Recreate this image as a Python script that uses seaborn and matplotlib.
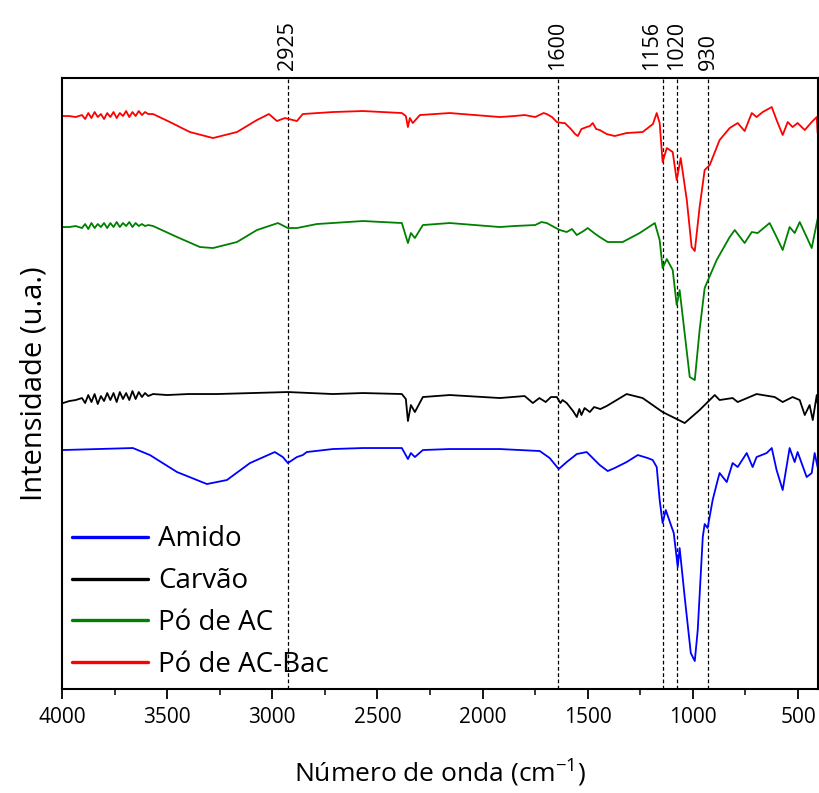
import matplotlib
matplotlib.use("Agg")
import matplotlib.pyplot as plt
import seaborn as sns
from matplotlib.ticker import MultipleLocator

# --- Data (intensity in arbitrary units) ---
wn_amido = [3995, 3663, 3582, 3453, 3311, 3216, 3106, 2988, 2950, 2926, 2883, 2855, 2836, 2712,
            2569, 2384, 2355, 2341, 2322, 2284, 2156, 1918, 1728, 1681, 1638, 1600, 1552, 1505,
            1443, 1405, 1372, 1315, 1262, 1215, 1191, 1172, 1158, 1144, 1129, 1101, 1091, 1072,
            1063, 1039, 1010, 991, 977, 953, 944, 930, 906, 882, 873, 839, 811, 787, 744, 716,
            697, 649, 625, 602, 573, 540, 516, 502, 459, 435, 421, 407]
int_amido = [239, 241, 234, 217, 205, 209, 226, 237, 232, 226, 232, 234, 237, 240,
             241, 241, 230, 236, 232, 239, 240, 240, 238, 231, 220, 227, 235, 237,
             224, 218, 221, 227, 234, 231, 229, 222, 189, 166, 179, 162, 156, 122,
             141, 92, 36, 28, 59, 152, 165, 161, 189, 209, 216, 207, 226, 222, 236, 222,
             232, 236, 241, 219, 199, 241, 227, 237, 212, 216, 236, 222]

wn_carvao = [3995, 3965, 3935, 3905, 3890, 3875, 3860, 3845, 3830, 3815, 3800, 3785, 3770, 3755,
             3740, 3725, 3710, 3695, 3680, 3665, 3650, 3635, 3620, 3605, 3590, 3567, 3500, 3400,
             3263, 2926, 2712, 2569, 2384, 2365, 2355, 2341, 2322, 2284, 2156, 1918, 1800,
             1761, 1730, 1700, 1675, 1647, 1630, 1620, 1600, 1570, 1552, 1540, 1530, 1515, 1490,
             1470, 1440, 1410, 1315, 1239, 1144, 1039, 968, 896, 873, 811, 787, 697, 611, 573,
             526, 492, 468, 445, 430, 411, 407]
int_carvao = [286, 288, 289, 291, 286, 294, 287, 295, 285, 293, 288, 296, 289, 296,
              287, 297, 290, 296, 289, 298, 290, 297, 292, 296, 293, 295, 294, 295,
              295, 297, 295, 296, 295, 290, 268, 284, 277, 292, 294, 291, 293,
              286, 291, 287, 292, 292, 286, 289, 286, 278, 272, 280, 274, 281, 277,
              282, 280, 283, 295, 291, 277, 266, 279, 294, 289, 291, 287, 295, 292, 287,
              292, 289, 274, 284, 269, 294, 286]

wn_ac = [3995, 3965, 3935, 3905, 3890, 3875, 3860, 3845, 3830, 3815, 3800, 3785, 3770, 3755,
         3740, 3725, 3710, 3695, 3680, 3665, 3650, 3635, 3620, 3605, 3590, 3567,
         3453, 3344, 3282, 3168, 3073, 2973, 2926, 2883, 2788, 2569, 2384, 2355, 2341,
         2322, 2284, 2156, 1918, 1850, 1750, 1720, 1695, 1660, 1633, 1600, 1575, 1552, 1520,
         1500, 1470, 1443, 1405, 1334, 1253, 1181, 1158, 1144, 1124, 1096, 1077, 1063, 1015,
         991, 968, 944, 934, 887, 825, 801, 754, 720, 692, 635, 602, 573, 540, 516, 492, 459,
         435, 411, 407]
int_ac = [462, 462, 463, 461, 465, 460, 466, 461, 465, 462, 466, 461, 466, 462,
          467, 462, 466, 463, 467, 462, 466, 463, 465, 463, 464, 463,
          452, 442, 441, 447, 459, 466, 461, 461, 465, 468, 466, 446, 456,
          451, 464, 466, 462, 463, 464, 467, 466, 462, 459, 457, 460, 454, 458,
          461, 456, 452, 447, 447, 456, 466, 449, 421, 430, 419, 384, 399, 312,
          309, 359, 401, 406, 429, 452, 459, 446, 457, 456, 466, 452, 439, 462, 456, 467, 452,
          441, 466, 470]

wn_acbac = [3995, 3965, 3935, 3905, 3890, 3875, 3860, 3845, 3830, 3815, 3800, 3785, 3770, 3755,
            3740, 3725, 3710, 3695, 3680, 3665, 3650, 3635, 3620, 3605, 3590, 3567,
            3487, 3392, 3282, 3168, 3073, 3016, 2978, 2940, 2883, 2855, 2712, 2569, 2384,
            2365, 2355, 2346, 2332, 2298, 2156, 1918, 1850, 1800, 1750, 1710, 1695, 1670, 1647,
            1620, 1609, 1580, 1560, 1547, 1530, 1505, 1490, 1476, 1460, 1443, 1410, 1372, 1315,
            1239, 1190, 1172, 1158, 1144, 1124, 1096, 1077, 1058, 1029, 1006, 991, 968, 944,
            920, 873, 825, 787, 754, 720, 697, 668, 625, 602, 573, 549, 526, 502, 468, 435,
            411, 407]
int_acbac = [573, 573, 572, 574, 570, 576, 571, 577, 572, 575, 570, 576, 572, 577,
             571, 576, 573, 578, 572, 577, 573, 578, 574, 577, 575, 575,
             567, 557, 551, 557, 569, 575, 568, 571, 568, 575, 577, 578, 576,
             573, 562, 571, 566, 574, 576, 572, 573, 574, 572, 576, 575, 572, 567,
             566, 566, 560, 555, 553, 560, 562, 563, 566, 560, 559, 555, 553, 556,
             557, 565, 576, 566, 527, 541, 537, 509, 531, 489, 442, 438, 482, 519,
             524, 549, 561, 566, 558, 576, 572, 577, 582, 569, 554, 567, 562, 566, 559, 567,
             572, 556]

series_labels = ["Amido", "Carvão", "Pó de AC", "Pó de AC-Bac"]
series_colors = ["#0000ff", "#000000", "#008000", "#ff0000"]

band_positions = [2925, 1643, 1144, 1077, 930]
band_labels = ["2925", "1600", "1156", "1020", "930"]
band_label_x = [2926, 1643, 1196, 1077, 925]

sns.set_theme(style="ticks")
plt.rcParams['font.family'] = ['Open Sans', 'DejaVu Sans']
plt.rcParams['mathtext.fontset'] = 'custom'
plt.rcParams['mathtext.rm'] = 'Open Sans'
plt.rcParams['text.color'] = 'black'
plt.rcParams['axes.labelcolor'] = 'black'
plt.rcParams['xtick.color'] = 'black'
plt.rcParams['ytick.color'] = 'black'

fig = plt.figure(figsize=(8.19, 7.93), dpi=100)
ax = fig.add_axes([0.0757, 0.1311, 0.9231, 0.7705])

data = [(wn_amido, int_amido), (wn_carvao, int_carvao), (wn_ac, int_ac), (wn_acbac, int_acbac)]
for (wn, inten), lab, col in zip(data, series_labels, series_colors):
    sns.lineplot(x=wn, y=inten, color=col, label=lab, ax=ax, sort=False, linewidth=1.3)

for pos in band_positions:
    ax.axvline(pos, color='black', linestyle=(0, (3, 2)), linewidth=0.9, zorder=0)

for lx, lab in zip(band_label_x, band_labels):
    ax.text(lx, 1.013, lab, transform=ax.get_xaxis_transform(), rotation=90,
            ha='center', va='bottom', fontsize=15.5, color='black')

ax.set_xlim(4000, 405)
ax.set_ylim(0, 611)
ax.xaxis.set_major_locator(MultipleLocator(500))
ax.xaxis.set_minor_locator(MultipleLocator(250))
ax.tick_params(axis='x', which='major', direction='out', length=7, width=1.3, labelsize=15, pad=6)
ax.tick_params(axis='x', which='minor', direction='out', length=4, width=1.1)
ax.set_yticks([])
for side in ['left', 'right', 'top', 'bottom']:
    ax.spines[side].set_visible(True)
    ax.spines[side].set_linewidth(1.5)
    ax.spines[side].set_color('black')

ax.set_xlabel(r"Número de onda (cm$^{\mathregular{-1}}$)", fontsize=19, labelpad=20)
ax.set_ylabel("Intensidade (u.a.)", fontsize=21, labelpad=10)

leg = ax.legend(loc='lower left', bbox_to_anchor=(0.0, 0.0), frameon=False, fontsize=20,
                handlelength=2.75, handletextpad=0.35, labelspacing=0.5,
                borderaxespad=0.0, borderpad=0.36)
for line in leg.get_lines():
    line.set_linewidth(2.4)

fig.savefig("out.png", dpi=100)
